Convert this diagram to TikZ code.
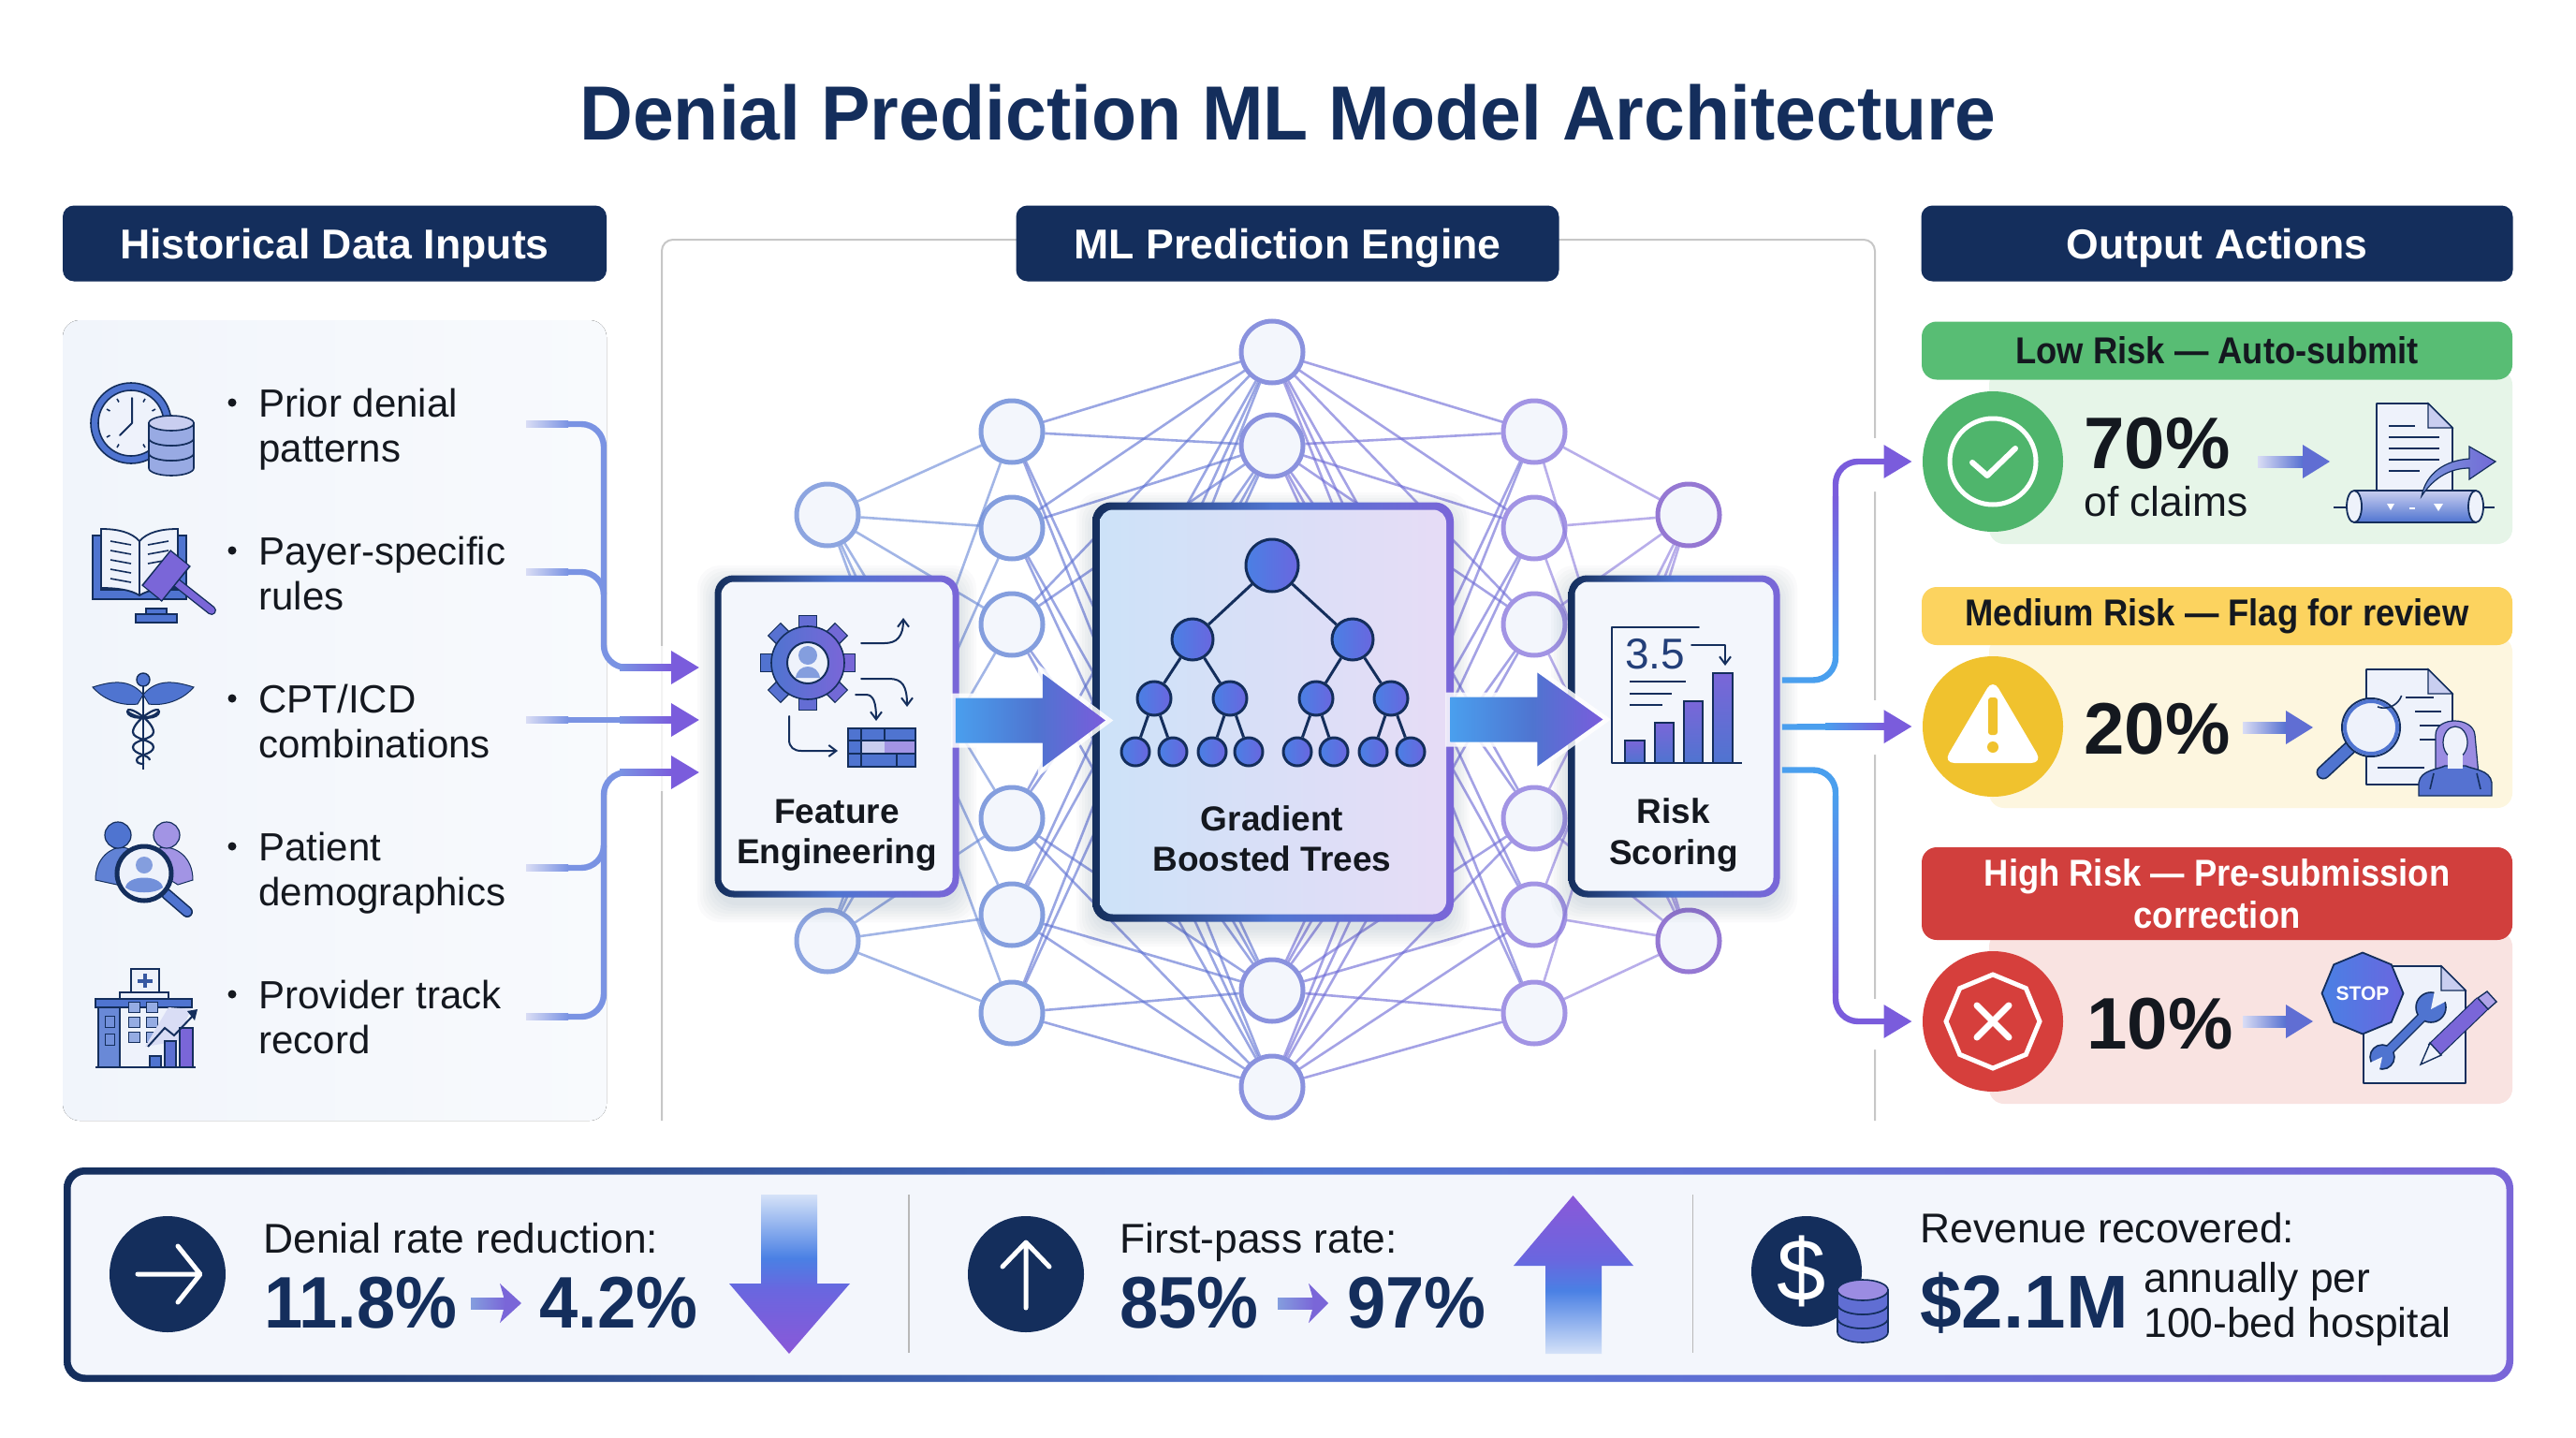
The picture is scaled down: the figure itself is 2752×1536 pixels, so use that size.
\documentclass[tikz,border=0pt]{standalone}
\usepackage{fontspec}
\setmainfont{Liberation Sans}
\newfontface\titlef[FakeStretch=0.96]{Liberation Sans Bold}
\newfontface\statf[FakeStretch=0.95]{Liberation Sans Bold}
\newfontface\riskf[FakeStretch=0.91]{Liberation Sans Bold}
\usetikzlibrary{arrows.meta,calc,shapes.geometric}
\definecolor{navy}{HTML}{142E5C}
\definecolor{panel}{HTML}{F3F6FC}
\definecolor{iblue}{HTML}{4F74D0}
\definecolor{ipurple}{HTML}{7A66D8}
\definecolor{ilav}{HTML}{C9CEF0}
\definecolor{ipale}{HTML}{EEF2FB}
\definecolor{conn}{HTML}{7A93E3}
\definecolor{connp}{HTML}{7A5CDC}
\definecolor{connb}{HTML}{4A9FEE}
\definecolor{mgreen}{HTML}{4FB56C}
\definecolor{mamber}{HTML}{F0C22E}
\definecolor{mred}{HTML}{D63F3C}
\definecolor{inktext}{HTML}{14181F}
\definecolor{gbL}{HTML}{CDE2F8}
\definecolor{gbR}{HTML}{E6DCF6}
\definecolor{bodyg}{HTML}{E6F5E8}
\definecolor{bodya}{HTML}{FDF6DF}
\definecolor{bodyr}{HTML}{F9E3E1}
\definecolor{hdrg}{HTML}{58BD74}
\definecolor{hdra}{HTML}{FCD35F}
\definecolor{hdrr}{HTML}{D13F3D}
\definecolor{panL}{HTML}{F1F5FB}
\definecolor{panR}{HTML}{F8FAFD}
\pgfdeclarehorizontalshading{borderg}{100bp}{color(0bp)=(navy); color(25bp)=(navy); color(50bp)=(iblue); color(75bp)=(ipurple); color(100bp)=(ipurple)}
\pgfdeclarehorizontalshading{arrowg}{100bp}{color(0bp)=(connb); color(25bp)=(connb); color(52bp)=(iblue); color(75bp)=(connp); color(100bp)=(connp)}
\definecolor{dlight}{HTML}{D5E2F8}
\definecolor{dblue}{HTML}{4A80E4}
\definecolor{dmid}{HTML}{6A66DF}
\definecolor{dpur}{HTML}{8A58D8}
\pgfdeclareverticalshading{downg}{100bp}{color(0bp)=(dpur); color(25bp)=(dpur); color(45bp)=(dmid); color(55bp)=(dblue); color(75bp)=(dlight); color(100bp)=(dlight)}
\pgfdeclareverticalshading{upg}{100bp}{color(0bp)=(dlight); color(25bp)=(dlight); color(45bp)=(dblue); color(55bp)=(dmid); color(75bp)=(dpur); color(100bp)=(dpur)}
\tikzset{
  hdr/.style={rectangle,rounded corners=6pt,fill=navy,text=white,font=\bfseries\fontsize{22.3}{26}\selectfont,inner sep=0pt,minimum height=40.5pt,text height=16pt,text depth=0pt},
  nn/.style={circle,draw=#1,fill=panel,line width=2.5pt,minimum size=33pt,inner sep=0pt},
  edge/.style={draw=#1,line width=1.3pt,opacity=.62},
  item/.style={anchor=base west,inner sep=0pt,align=left,text=inktext,font=\fontsize{21}{23.7}\selectfont},
  bul/.style={circle,fill=inktext,minimum size=4.5pt,inner sep=0pt},
  boxlabel/.style={inner sep=0pt,align=center,text=inktext,font=\bfseries\fontsize{18.5}{21.6}\selectfont},
  gbox/.style={rectangle,rounded corners=10pt,shading=borderg,inner sep=0pt},
  ibox/.style={rectangle,rounded corners=7pt,fill=panel,inner sep=0pt},
  link/.style={draw=conn,line width=3.2pt,rounded corners=12pt},
  tip/.style={-{Triangle[length=15pt,width=17pt,color=connp]}},
  risk/.style={rectangle,rounded corners=8pt,inner sep=0pt,align=center},
  big/.style={anchor=base west,inner sep=0pt,text=inktext,font=\bfseries\fontsize{39}{44}\selectfont},
  stat/.style={anchor=base west,inner sep=0pt,text=navy,font=\statf\fontsize{39}{44}\selectfont},
  lab/.style={anchor=base west,inner sep=0pt,text=inktext,font=\fontsize{22.2}{24}\selectfont},
  thinnavy/.style={draw=navy,line width=.9pt,line join=round,line cap=round},
  hand/.style={draw=#1,line width=1pt,line cap=round,line join=round,-{Straight Barb[length=4pt,width=6pt]}},
  circ/.style={circle,inner sep=0pt,fill=#1},
}
\newcommand{\hg}[5]{\fill[left color=#4,right color=#5] (#1,#3-3.2) rectangle (#2,#3+3.2);}
\newcommand{\vg}[5]{\fill[top color=#4,bottom color=#5] (#1-3.2,#2) rectangle (#1+3.2,#3);}
\newcommand{\softshadow}[4]{\foreach \s in {2,5,...,20}{\fill[navy,opacity=.018,rounded corners=12pt] (#1-\s,#2-\s+8) rectangle (#3+\s,#4+\s+8);}}
\newcommand{\smarrow}[5]{\fill[left color=ilav!70!white,right color=iblue!80!ipurple] (#1,#4-6) rectangle (#2,#4+6);\fill[iblue!60!ipurple] (#2,#4-#5) -- (#3,#4) -- (#2,#4+#5) -- cycle;}
\newcommand{\charrow}[4]{\fill[left color=iblue!70!white,right color=ipurple] (#1,#4-6) rectangle (#2+6,#4+6);\fill[ipurple] (#2,#4-21) -- (#3,#4) -- (#2,#4+21) -- (#2+6,#4) -- cycle;}
% stacked cylinders: cx ytop rx ry step n ; colours taken from \stkside and \stktop
\newcommand{\stkside}{ilav!60!iblue}
\newcommand{\stktop}{ilav}
\newcommand{\dbstack}[6]{\foreach \k in {#6,...,1}{
  \pgfmathsetmacro\yy{#2+(\k-1)*#5}
  \fill[\stkside,draw=navy,line width=.8pt] (#1-#3,\yy) -- (#1-#3,\yy+#5) arc[start angle=180,end angle=0,x radius=#3,y radius=#4] -- (#1+#3,\yy) -- cycle;
  \draw[fill=\stktop,draw=navy,line width=.8pt] (#1,\yy) ellipse[x radius=#3,y radius=#4];}}
\newcommand{\docicon}[4]{\fill[ipale] (#1,#2) -- (#3-26,#2) -- (#3,#2+26) -- (#3,#4) -- (#1,#4) -- cycle;\draw[thinnavy] (#1,#4) -- (#1,#2) -- (#3-26,#2) -- (#3,#2+26) -- (#3,#4) -- cycle;\fill[ilav,draw=navy,line width=.6pt] (#3-26,#2) -- (#3,#2+26) -- (#3-26,#2+26) -- cycle;}
\begin{document}
\begin{tikzpicture}[x=.5pt,y=-.5pt]
\useasboundingbox (0,0) rectangle (2752,1536);
\fill[white] (0,0) rectangle (2752,1536);

% ---------- title
\node[inner sep=0pt,text=navy,font=\titlef\fontsize{41}{46}\selectfont] (title) at (1376,120) {Denial Prediction ML Model Architecture};

% ---------- engine frame
\draw[draw=black!22,line width=1pt,rounded corners=6pt] (707,1197) -- (707,256) -- (2003,256) -- (2003,1197);

% ---------- panels
\fill[left color=panL,right color=panR,rounded corners=9pt] (67,342) rectangle (648,1197);

% ---------- network
\foreach \n/\x/\y in {1/884/550,2/884/1005}{\node[nn=iblue!65!white] (a\n) at (\x,\y) {};}
\foreach \n/\y in {1/461,2/564,3/667,4/874,5/977,6/1082}{\node[nn=iblue!70!white] (b\n) at (1081,\y) {};}
\foreach \n/\y in {1/376,2/476,3/1058,4/1161}{\node[nn=iblue!55!ipurple!75!white] (c\n) at (1359,\y) {};}
\foreach \n/\y in {1/461,2/564,3/667,4/874,5/977,6/1082}{\node[nn=ipurple!70!white] (d\n) at (1639,\y) {};}
\foreach \n/\x/\y in {1/1804/550,2/1804/1005}{\node[nn=ipurple!80!pink] (e\n) at (\x,\y) {};}
\foreach \i in {1,2}{\foreach \j in {1,...,6}{\draw[edge=iblue!85!white] (a\i) -- (b\j);\draw[edge=ipurple!85!white] (e\i) -- (d\j);}}
\foreach \i in {1,...,6}{\foreach \j in {1,...,4}{\draw[edge=iblue!70!ipurple] (b\i) -- (c\j);\draw[edge=ipurple!70!iblue] (d\i) -- (c\j);}}

% ---------- header nodes
\node[hdr,minimum width=290.5pt] (h1) at (357.5,260) {Historical Data Inputs};
\node[hdr,minimum width=290pt] (h2) at (1375.5,260) {ML Prediction Engine};
\node[hdr,minimum width=316pt] (h3) at (2368.5,260) {Output Actions};

% ---------- boxes
\softshadow{765}{616}{1023}{957}
\softshadow{1677}{616}{1900}{957}
\softshadow{1170}{538}{1550}{983}
\node[gbox,minimum width=130.5pt,minimum height=172pt] (fe) at (894,786.5) {};
\node[ibox,minimum width=123.5pt,minimum height=165pt] (fei) at (fe) {};
\node[gbox,minimum width=113pt,minimum height=172pt] (rs) at (1788.5,786.5) {};
\node[ibox,minimum width=106pt,minimum height=165pt] (rsi) at (rs) {};
\node[gbox,minimum width=193pt,minimum height=224pt] (gb) at (1360,760.5) {};
\node[rectangle,rounded corners=7pt,inner sep=0pt,left color=gbL,right color=gbR,minimum width=185pt,minimum height=216pt] (gbi) at (gb) {};
\node[boxlabel] (fet) at (894,892) {Feature\\Engineering};
\node[boxlabel] (gbt) at (1359,896) {Gradient\\Boosted Trees};
\node[boxlabel] (rst) at (1788,892) {Risk\\Scoring};

% ---------- big arrows
\path[fill=white,draw=white,line width=5pt,opacity=.85,line join=miter] ($(fe.east)+(-4,-41)$) -- ++(93,0) -- ++(0,-26) -- ++(67,50) -- ++(-67,50) -- ++(0,-26) -- ++(-93,0) -- cycle;
\path[shading=arrowg] ($(fe.east)+(-4,-41)$) -- ++(93,0) -- ++(0,-26) -- ++(67,50) -- ++(-67,50) -- ++(0,-26) -- ++(-93,0) -- cycle;
\path[fill=white,draw=white,line width=5pt,opacity=.85] ($(gb.east)+(-4,-16)$) -- ++(93,0) -- ++(0,-26) -- ++(70,50) -- ++(-70,50) -- ++(0,-26) -- ++(-93,0) -- cycle;
\path[shading=arrowg] ($(gb.east)+(-4,-16)$) -- ++(93,0) -- ++(0,-26) -- ++(70,50) -- ++(-70,50) -- ++(0,-26) -- ++(-93,0) -- cycle;

% ---------- tree
\foreach \n/\x/\y/\r in {r/1359/604/28,s1/1274/683/22,s2/1445/683/22,t1/1233/746/18,t2/1314/746/18,t3/1406/746/18,t4/1486/746/18,u1/1213/803/15,u2/1253/803/15,u3/1295/803/15,u4/1334/803/15,u5/1386/803/15,u6/1425/803/15,u7/1467/803/15,u8/1507/803/15}{
  \node[circle,inner sep=0pt,minimum size=\r pt,draw=navy,line width=1.5pt,left color=dblue,right color=dmid] (\n) at (\x,\y) {};
}
\foreach \a/\b in {r/s1,r/s2,s1/t1,s1/t2,s2/t3,s2/t4,t1/u1,t1/u2,t2/u3,t2/u4,t3/u5,t3/u6,t4/u7,t4/u8}{\draw[navy,line width=1.5pt] (\a) -- (\b);}

% ---------- feature icon
\foreach \a in {0,45,...,315}{
  \draw[navy,line width=10pt] ($(863,708)+(\a:36)$) -- ($(863,708)+(\a:51)$);
}
\foreach \a in {0,45,...,315}{
  \pgfmathsetmacro\mx{50+45*cos(\a)}
  \draw[ipurple!\mx!iblue,line width=8.6pt] ($(863,708)+(\a:36)$) -- ($(863,708)+(\a:50)$);
}
\node[circle,inner sep=0pt,minimum size=39pt,left color=iblue,right color=ipurple,draw=navy,line width=.8pt] (gear) at (863,708) {};
\node[circle,inner sep=0pt,minimum size=22pt,fill=ipale,draw=navy,line width=1pt] (gearh) at (863,708) {};
\fill[iblue!70!white] (863,700) circle (10);
\fill[iblue!70!white] (850,724) .. controls (852,708) and (874,708) .. (876,724) -- cycle;
\draw[hand=navy] (920,687) -- (945,687) .. controls (958,687) and (965,680) .. (965,660);
\draw[hand=navy] (920,725) -- (950,725) .. controls (964,725) and (969,733) .. (969,755);
\draw[hand=navy] (914,742) -- (925,742) .. controls (933,742) and (936,750) .. (936,770);
\draw[hand=navy] (843,765) -- (843,790) .. controls (843,798) and (848,802) .. (856,802) -- (895,802);
\fill[iblue] (906,778) rectangle (978,819);
\fill[ilav] (920,791) rectangle (978,805);
\fill[ipurple!70!white] (945,791) rectangle (978,805);
\draw[navy,line width=.9pt] (906,778) rectangle (978,819) (906,791) -- (978,791) (906,805) -- (978,805) (920,778) -- (920,819) (945,778) -- (945,791) (958,805) -- (958,819);

% ---------- risk icon
\draw[thinnavy] (1722,815) -- (1722,670) -- (1815,670);
\node[inner sep=0pt,text=navy!75!iblue,font=\fontsize{23}{26}\selectfont] (score) at (1768,699) {3.5};
\draw[hand=navy] (1807,689) -- (1843,689) -- (1843,711);
\draw[navy,line width=1.1pt] (1741,728) -- (1801,728) (1741,741) -- (1786,741) (1741,753) -- (1776,753);
\foreach \a/\b/\c in {1736/1757/791,1768/1788/772,1799/1819/749,1830/1851/719}{\fill[top color=ipurple,bottom color=iblue,draw=navy,line width=.7pt] (\a,\c) rectangle (\b,815);}
\draw[navy,line width=1.2pt] (1722,815) -- (1861,815);

% ---------- left list
\foreach \n/\y/\txt in {1/493/{Prior denial\\patterns},2/651/{Payer-specific\\rules},3/809/{CPT/ICD\\combinations},4/967/{Patient\\demographics},5/1125/{Provider track\\record}}{
  \node[item] (it\n) at (276,\y) {\txt};
  \node[bul] (bu\n) at (248,\y-63) {};
}

% clock + database
\node[circle,inner sep=0pt,minimum size=43pt,fill=iblue,draw=navy,line width=.8pt] (clk) at (140,452) {};
\node[circle,inner sep=0pt,minimum size=35pt,fill=ipale,draw=navy,line width=.8pt] (clki) at (140,452) {};
\draw[navy,line width=1pt,line cap=round] (141,452) -- (141,425) (141,452) -- (128,465);
\foreach \a in {30,60,120,150,210,240,300,330}{\draw[navy,line width=.8pt] ($(140,452)+(\a:26)$) -- ($(140,452)+(\a:30)$);}
\dbstack{183}{452}{24}{8}{16}{3}

% book + gavel
\fill[iblue,draw=navy,line width=.7pt] (99,572) -- (99,640) -- (199,640) -- (199,572) -- (190,572) -- (190,630) -- (108,630) -- (108,572) -- cycle;
\fill[ipale,draw=navy,line width=.9pt] (108,565) .. controls (125,565) and (140,568) .. (149,578) .. controls (158,568) and (173,565) .. (190,565) -- (190,628) .. controls (173,628) and (158,630) .. (149,636) .. controls (140,630) and (125,628) .. (108,628) -- cycle;
\draw[navy,line width=.9pt] (149,578) -- (149,636);
\foreach \o in {0,1,2,3,4}{\draw[navy,line width=.8pt] (118,{578+\o*10}) -- (140,{582+\o*10});}
\foreach \o in {0,1,2}{\draw[navy,line width=.8pt] (180,{578+\o*10}) -- (158,{582+\o*10});}
\draw[navy,line width=5pt,line cap=round] (183,618) -- (226,652);
\draw[ipurple,line width=3.6pt,line cap=round] (183,618) -- (226,652);
\draw[navy,line width=14pt] (162,634) -- (193,596);
\draw[ipurple,line width=12.4pt] (163,633) -- (192,597);
\fill[iblue,draw=navy,line width=.7pt] (156,650) rectangle (178,656);
\fill[iblue,draw=navy,line width=.7pt] (145,656) rectangle (189,665);

% caduceus
\foreach \s in {1,-1}{
  \fill[iblue,draw=navy,line width=.5pt] (153,742) .. controls ($(153,742)+(\s*-15,-18)$) and ($(153,742)+(\s*-35,-14)$) .. ($(153,742)+(\s*-54,-8)$) .. controls ($(153,742)+(\s*-40,8)$) and ($(153,742)+(\s*-20,12)$) .. ($(153,742)+(\s*-6,10)$) -- cycle;
}
\draw[navy,line width=1.4pt] (153,730) -- (153,822);
\fill[iblue,draw=navy,line width=.7pt] (153,726) circle (7);
\draw[navy,line width=1.1pt] (136,760) .. controls (150,770) and (170,768) .. (170,760) .. controls (170,752) and (142,770) .. (142,782) .. controls (142,790) and (164,790) .. (164,798) .. controls (164,806) and (146,806) .. (146,812) .. controls (146,816) and (152,816) .. (154,816);
\draw[navy,line width=1.1pt] (170,760) .. controls (160,770) and (136,768) .. (136,760) .. controls (136,752) and (164,770) .. (164,782) .. controls (164,790) and (142,790) .. (142,798) .. controls (142,806) and (160,806) .. (160,812);

% people + magnifier
\fill[iblue!90!white,draw=navy,line width=.5pt] (102,940) .. controls (102,915) and (120,905) .. (130,905) .. controls (140,905) and (150,915) .. (150,925) -- (125,945) -- cycle;
\fill[ipurple!70!white,draw=navy,line width=.5pt] (206,940) .. controls (206,915) and (188,905) .. (176,905) .. controls (165,905) and (158,915) .. (158,925) -- (190,945) -- cycle;
\fill[iblue,draw=navy,line width=.6pt] (126,892) circle (14);
\fill[ipurple!70!white,draw=navy,line width=.6pt] (178,892) circle (14);
\draw[navy,line width=6pt,line cap=round] (178,955) -- (200,974);
\draw[iblue,line width=4.4pt,line cap=round] (178,955) -- (200,974);
\node[circle,inner sep=0pt,minimum size=29pt,fill=ipale,draw=navy,line width=2.5pt] (mag1) at (154,933) {};
\fill[iblue!70!white] (154,924) circle (9);
\fill[iblue!80!white] (134,948) .. controls (136,934) and (172,934) .. (174,948) .. controls (166,955) and (142,955) .. (134,948) -- cycle;

% hospital + chart
\fill[iblue!85!white,draw=navy,line width=.6pt] (105,1075) rectangle (135,1140);
\fill[ipale,draw=navy,line width=.7pt] (128,1060) rectangle (180,1140);
\fill[iblue,draw=navy,line width=.6pt] (102,1067) rectangle (205,1076);
\fill[ipale,draw=navy,line width=.8pt] (140,1035) rectangle (170,1060);
\draw[iblue!60!navy,line width=2pt] (155,1040) -- (155,1055) (147,1047.5) -- (163,1047.5);
\fill[iblue!80!white,draw=navy,line width=.5pt] (112,1085) rectangle (122,1097) (112,1104) rectangle (122,1116);
\foreach \xx in {137,156}{\foreach \yy in {1065,1081,1097}{\fill[iblue!60!white,draw=navy,line width=.5pt] (\xx,\yy+16) rectangle (\xx+12,\yy+5);}}
\fill[ilav!70!white] (180,1076) -- (204,1078) -- (190,1112) -- (155,1118) -- cycle;
\draw[navy,line width=.9pt] (102,1140) -- (170,1140);
\fill[iblue,draw=navy,line width=.6pt] (160,1128) rectangle (172,1140);
\fill[iblue!70!ipurple,draw=navy,line width=.6pt] (176,1112) rectangle (188,1140);
\fill[ipurple,draw=navy,line width=.6pt] (192,1098) rectangle (206,1140);
\draw[navy,line width=1pt] (158,1118) -- (176,1098) -- (186,1106) -- (206,1085);
\fill[navy] (211,1078) -- (200,1080) -- (208,1090) -- cycle;
\draw[navy,line width=1.2pt] (155,1140) -- (209,1140);

% ---------- input connectors
\coordinate (s1) at (562,453); \coordinate (s2) at (562,611); \coordinate (s3) at (562,769);
\coordinate (s4) at (562,927); \coordinate (s5) at (562,1086);
\coordinate (j1) at (645,713); \coordinate (j2) at (645,825);
\coordinate (t1) at ($(fe.west)+(-16,-73.5)$);
\coordinate (t2) at ($(fe.west)+(-16,-17.5)$);
\coordinate (t3) at ($(fe.west)+(-16,38.5)$);
\fill[white,opacity=.8] (700,690) rectangle (714,845);
\draw[link,tip] (s1) -| (j1) -- (t1);
\draw[link] (s2) -| ($(j1|-s2)+(0,24)$);
\draw[link,tip] (s3) -- (t2);
\draw[link,tip] (s5) -| (j2) -- (t3);
\draw[link] (s4) -| ($(j2|-s4)+(0,-24)$);
\foreach \n in {1,2,3,4,5}{
  \fill[left color=ilav!70!white,right color=conn] ($(s\n)+(0,-3.2)$) rectangle ($(s\n)+(45,3.2)$);}
\foreach \n in {1,2,3}{\fill[left color=conn,right color=connp] ($(t\n)+(-85,-3.2)$) rectangle ($(t\n)+(-29,3.2)$);}

% ---------- output panels
\fill[bodyg,rounded corners=8pt] (2125,395) rectangle (2684,581);
\fill[bodya,rounded corners=8pt] (2125,680) rectangle (2684,863);
\fill[bodyr,rounded corners=8pt] (2125,995) rectangle (2684,1179);
\node[risk,fill=hdrg,minimum width=315.5pt,minimum height=31pt,text=inktext,font=\riskf\fontsize{20}{24}\selectfont] (lo) at (2368.5,374.5) {Low Risk — Auto-submit};
\node[risk,fill=hdra,minimum width=315.5pt,minimum height=31pt,text=inktext,font=\riskf\fontsize{20}{24}\selectfont] (me) at (2368.5,658) {Medium Risk — Flag for review};
\node[risk,fill=hdrr,minimum width=315.5pt,minimum height=49.5pt,text=white,font=\riskf\fontsize{20}{22.5}\selectfont] (hi) at (2368.5,954.5) {High Risk — Pre-submission\\correction};
\node[circ=mgreen,minimum size=75pt] (cg) at (2129,493) {};
\node[circ=mamber,minimum size=75pt] (ca) at (2129,776) {};
\node[circ=mred,minimum size=75pt] (cr) at (2129,1091) {};
% output connectors
\coordinate (ra) at ($(rs.east)+(2,-60)$);
\coordinate (rb) at ($(rs.east)+(2,-10)$);
\coordinate (rc) at ($(rs.east)+(2,36)$);
\coordinate (m1) at (1961,610); \coordinate (m2) at (1961,956);
\coordinate (o1) at ($(cg.west)+(-11,0)$);
\coordinate (o2) at ($(ca.west)+(-11,0)$);
\coordinate (o3) at ($(cr.west)+(-11,0)$);
\fill[white] (1996,468) rectangle (2010,525) (1996,748) rectangle (2010,806) (1996,1067) rectangle (2010,1121);
\draw[link,draw=connb] (ra) -| (m1);
\draw[link,draw=connp,tip] (m1) |- (o1);
\draw[link,draw=connb] (rc) -| (m2);
\draw[link,draw=connp,tip] (m2) |- (o3);
\draw[link,draw=connb,tip] (rb) -- (o2);
\vg{1961}{530}{700}{connp}{connb}
\vg{1961}{850}{1060}{connb}{connp}
\hg{1950}{2013}{776}{connb}{connp}

% circle glyphs
\node[circle,inner sep=0pt,minimum size=46pt,draw=white,line width=2.5pt] (cg2) at (2129,493) {};
\draw[white,line width=3pt,line cap=round,line join=round] (2107,494) -- (2123,508) -- (2153,479);
\fill[white,rounded corners=6pt] (2129,725) -- (2182,815) -- (2076,815) -- cycle;
\fill[mamber,rounded corners=1.5pt] (2124,745) rectangle (2134,785);
\fill[mamber] (2129,798) circle (6);
\node[regular polygon,regular polygon sides=8,shape border rotate=22.5,inner sep=0pt,minimum size=50pt,draw=white,line width=2.5pt] (oc) at (2129,1091) {};
\draw[white,line width=3.5pt,line cap=round] (2112,1074) -- (2146,1108) (2146,1074) -- (2112,1108);

% percentages
\node[big] (p70) at (2226,500) {70\%};
\node[lab] (ofc) at (2226,551) {of claims};
\node[big] (p20) at (2226,805) {20\%};
\node[big] (p10) at (2229,1120) {10\%};
\smarrow{2412}{2460}{2489}{493}{18}
\smarrow{2396}{2442}{2471}{777}{18}
\smarrow{2396}{2442}{2471}{1091}{18}

% pipeline icon
\docicon{2539}{431}{2620}{532}
\draw[navy,line width=.8pt] (2552,455) -- (2580,455) (2552,467) -- (2606,467) (2552,479) -- (2606,479) (2552,491) -- (2606,491) (2552,503) -- (2585,503);
\draw[navy,line width=1pt] (2493,542) -- (2510,542) (2640,542) -- (2665,542);
\fill[top color=ilav,bottom color=iblue] (2515,524) rectangle (2645,558);
\draw[navy,line width=.9pt] (2515,524) -- (2645,524) (2515,558) -- (2645,558);
\draw[fill=ipale,draw=navy,line width=.9pt] (2515,541) ellipse[x radius=8,y radius=17];
\draw[fill=ipale,draw=navy,line width=.9pt] (2645,541) ellipse[x radius=8,y radius=17];
\fill[white] (2550,538) -- (2558,538) -- (2554,545) -- cycle (2600,538) -- (2610,538) -- (2605,546) -- cycle;
\draw[white,line width=1pt] (2574,543) -- (2580,543);
\fill[left color=iblue!75!white,right color=ipurple!80!iblue,draw=navy,line width=.6pt] (2587,530) .. controls (2592,505) and (2612,492) .. (2638,490) -- (2638,477) -- (2666,493) -- (2638,512) -- (2638,500) .. controls (2618,500) and (2600,510) .. (2587,530) -- cycle;

% review icon
\docicon{2528}{715}{2620}{838}
\draw[navy,line width=.8pt] (2570,745) -- (2600,745) (2580,760) -- (2608,760) (2585,775) -- (2608,775) (2585,790) -- (2608,790) (2540,820) -- (2590,820);
\draw[navy,line width=7.5pt,line cap=round] (2510,799) -- (2482,825);
\draw[iblue,line width=5.8pt,line cap=round] (2510,799) -- (2482,825);
\node[circle,inner sep=0pt,minimum size=31pt,fill=ipale,draw=navy,line width=1pt] (mag2) at (2533,777) {};
\draw[iblue,line width=2pt] (2533,777) circle (28);
\draw[navy,line width=.8pt] (2540,755) arc[start angle=110,end angle=20,radius=20];
\fill[ipurple!75!white,draw=navy,line width=.6pt] (2602,828) -- (2602,785) .. controls (2602,765) and (2642,765) .. (2644,785) -- (2648,828) -- cycle;
\fill[iblue!85!ipurple,draw=navy,line width=.7pt] (2584,850) -- (2584,836) .. controls (2586,822) and (2605,822) .. (2612,818) -- (2634,818) .. controls (2642,822) and (2660,822) .. (2662,836) -- (2662,850) -- cycle;
\fill[ipale,draw=navy,line width=.6pt] (2623,793) ellipse[x radius=13,y radius=17];
\fill[ipale] (2615,806) rectangle (2631,821);
\draw[navy,line width=.8pt] (2600,826) -- (2596,843) (2646,826) -- (2650,843);

% correction icon
\docicon{2525}{1032}{2634}{1157}
\draw[navy,line width=5.6pt,line cap=round] (2590,1084) -- (2552,1122);
\fill[iblue,draw=navy,line width=.8pt] (2597,1076) circle (16);
\fill[iblue,draw=navy,line width=.8pt] (2545,1129) circle (13);
\draw[iblue,line width=4.2pt,line cap=round] (2590,1084) -- (2552,1122);
\fill[ipale] (2601,1058) -- (2616,1068) -- (2597,1078) -- cycle;
\fill[ipale] (2530,1136) -- (2541,1147) -- (2545,1129) -- cycle;
\draw[navy,line width=9pt,line cap=butt] (2600,1122) -- (2652,1072);
\draw[ipurple,line width=7.8pt,line cap=butt] (2600,1122) -- (2652,1072);
\fill[ipale,draw=navy,line width=.7pt] (2596,1114) -- (2608,1127) -- (2586,1137) -- cycle;
\fill[ipurple!60!white,draw=navy,line width=.7pt] (2647,1066) -- (2657,1059) -- (2667,1070) -- (2658,1078) -- cycle;
\node[regular polygon,regular polygon sides=8,shape border rotate=22.5,inner sep=0pt,minimum size=42pt,draw=navy,line width=.9pt,left color=dblue,right color=dmid,text=white,font=\bfseries\fontsize{10.5}{13}\selectfont] (stp) at (2524,1061) {STOP};

% ---------- bottom band
\node[gbox,minimum width=1308.5pt,minimum height=114.5pt,rounded corners=11pt] (bp) at (1376.5,1361.5) {};
\node[ibox,minimum width=1301pt,minimum height=107pt,rounded corners=8pt] (bpi) at (bp) {};
\node[circ=navy,minimum size=62pt] (k1) at (179,1361) {};
\node[circ=navy,minimum size=62pt] (k2) at (1096,1361) {};
\node[circ=navy,minimum size=59pt] (k3) at (1930,1358) {};
\draw[white,line width=2.5pt,line cap=round,line join=round] (147,1361) -- (213,1361) (190,1331) -- (214,1361) -- (190,1391);
\draw[white,line width=2.5pt,line cap=round,line join=round] (1096,1397) -- (1096,1328) (1071,1353) -- (1096,1327) -- (1121,1353);
\node[inner sep=0pt,text=white,font=\fontsize{47}{50}\selectfont] (dol) at (1925,1358) {\$};
\renewcommand{\stkside}{iblue!60!ipurple}
\renewcommand{\stktop}{ipurple!75!white}
\dbstack{1990}{1378}{27}{11}{15}{3}
\foreach \a in {971,1808.5}{\draw[black!28,line width=.8pt] (\a,1276) -- (\a,1445);}

\node[lab] (l1) at (281,1338) {Denial rate reduction:};
\node[stat] (v1a) at (282,1418) {11.8\%};
\node[stat] (v1b) at (576,1418) {4.2\%};
\charrow{503}{534}{557}{1392}
\path[shading=downg] (813,1276) -- (873,1276) -- (873,1371) -- (908,1371) -- (843,1446) -- (779,1371) -- (813,1371) -- cycle;

\node[lab] (l2) at (1196,1338) {First-pass rate:};
\node[stat] (v2a) at (1196,1418) {85\%};
\node[stat] (v2b) at (1439,1418) {97\%};
\charrow{1365}{1398}{1419}{1392}
\path[shading=upg] (1651,1446) -- (1711,1446) -- (1711,1352) -- (1745,1352) -- (1680.5,1277) -- (1617,1352) -- (1651,1352) -- cycle;

\node[lab] (l3) at (2051,1327) {Revenue recovered:};
\node[anchor=base west,inner sep=0pt,text=navy,font=\bfseries\fontsize{40}{44}\selectfont] (v3) at (2051,1418) {\$2.1M};
\node[anchor=base west,inner sep=0pt,align=left,text=inktext,font=\fontsize{22.2}{24}\selectfont] (l4) at (2290,1428) {annually per\\100-bed hospital};
\end{tikzpicture}
\end{document}
